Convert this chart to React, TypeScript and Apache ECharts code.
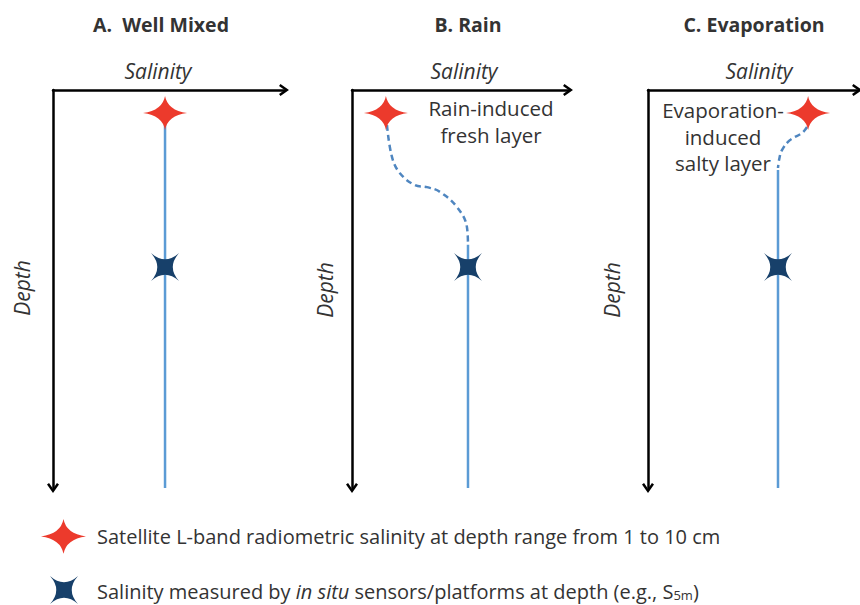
import React, { useEffect, useRef } from "react";
import * as echarts from "echarts";

// ---- data (salinity 0-100 arbitrary units, depth 0-100 arbitrary units) ----
const panelTitles = ["A.  Well Mixed", "B. Rain", "C. Evaporation"];
const axisNameX = "Salinity";
const axisNameY = "Depth";
const starName = "Satellite L-band radiometric salinity at depth range from 1 to 10 cm";
const sensorName = "Salinity measured by in situ sensors/platforms at depth (e.g., S5m)";

const starPoints = [
  [48.5, 5.8],
  [15.7, 5.8],
  [76.6, 5.8],
];
const sensorPoints = [
  [48.5, 44.5],
  [53.7, 44.5],
  [62.2, 44.5],
];
const solidProfiles = [
  [[48.5, 5.8], [48.5, 100]],
  [[53.7, 38.9], [53.7, 100]],
  [[62.2, 20.1], [62.2, 100]],
];
const dashedProfiles = [
  [],
  [[16.2, 8.8], [18.5, 16.8], [22.2, 20.9], [29.2, 23.9], [34.7, 24.4], [40.7, 25.6], [48.6, 29.4], [53.2, 34.4], [53.7, 38.9]],
  [[76.1, 9.3], [73.7, 10.8], [67.9, 12.6], [64.1, 15.1], [62.7, 17.6], [62.2, 19.6]],
];
const annotations = [
  [],
  ["Rain-induced", "fresh layer"],
  ["Evaporation-", "induced", "salty layer"],
];

// ---- layout/style ----
const FONT = '"Open Sans", "Noto Sans", sans-serif';
const grids = [
  { left: 53, top: 90, width: 231, height: 398 },
  { left: 352, top: 90, width: 216, height: 398 },
  { left: 648, top: 90, width: 209, height: 398 },
];
const titlePos = [[161, 24], [468, 24], [754, 24]];
const salinityPos = [[158, 71], [464, 71], [759, 71]];
const depthPos = [[22, 288], [325, 290], [612, 290]];
const annotPos = [null, { x: 491, y: 108, step: 27 }, { x: 723, y: 110, step: 26.5 }];

const ARROW = "path://M6,0 L12,8.5 L9.96,9.94 L6,4.3 L2.04,9.94 L0,8.5 Z";
const STAR = "path://M22,0 Q24.6,14.4 44,17 Q24.6,19.6 22,34 Q19.4,19.6 0,17 Q19.4,14.4 22,0 Z";
const XMARK = "path://M0,0 Q14,12.5 28,0 Q15.5,14 28,28 Q14,15.5 0,28 Q12.5,14 0,0 Z";

export default function App() {
  const ref = useRef<HTMLDivElement>(null);
  useEffect(() => {
    if (!ref.current) return;
    const chart = echarts.init(ref.current, null, { renderer: "svg" });

    const lineStyle = { color: "#000", width: 2.5 };
    const xAxis = grids.map((_, i) => ({
      gridIndex: i,
      type: "value",
      min: 0,
      max: 100,
      position: "top",
      axisLine: { show: true, onZero: false, lineStyle, symbol: ["none", ARROW], symbolSize: [12, 10] },
      axisTick: { show: false },
      axisLabel: { show: false },
      splitLine: { show: false },
    }));
    const yAxis = grids.map((_, i) => ({
      gridIndex: i,
      type: "value",
      min: 0,
      max: 100,
      inverse: true,
      axisLine: { show: true, onZero: false, lineStyle, symbol: [ARROW, "none"], symbolSize: [12, 10] },
      axisTick: { show: false },
      axisLabel: { show: false },
      splitLine: { show: false },
    }));

    const series: any[] = [];
    grids.forEach((_, i) => {
      series.push({
        type: "line",
        name: "profile-" + i,
        xAxisIndex: i,
        yAxisIndex: i,
        data: solidProfiles[i],
        symbol: "none",
        lineStyle: { color: "#5b9bd5", width: 2.5 },
        z: 2,
        silent: true,
      });
      if (dashedProfiles[i].length) {
        series.push({
          type: "line",
          name: "layer-" + i,
          xAxisIndex: i,
          yAxisIndex: i,
          data: dashedProfiles[i],
          smooth: 0.4,
          symbol: "none",
          lineStyle: { color: "#4f86c0", width: 2.5, type: [6, 4] },
          z: 2,
          silent: true,
        });
      }
      series.push({
        type: "scatter",
        name: starName,
        xAxisIndex: i,
        yAxisIndex: i,
        data: [starPoints[i]],
        symbol: STAR,
        symbolSize: [44, 34],
        itemStyle: { color: "#ec3a2c", opacity: 1 },
        z: 5,
        silent: true,
      });
      series.push({
        type: "scatter",
        name: sensorName,
        xAxisIndex: i,
        yAxisIndex: i,
        data: [sensorPoints[i]],
        symbol: XMARK,
        symbolSize: [28, 28],
        itemStyle: { color: "#17406a", opacity: 1 },
        z: 5,
        silent: true,
      });
    });

    const graphic: any[] = [];
    panelTitles.forEach((t, i) => {
      graphic.push({
        type: "text",
        x: titlePos[i][0],
        y: titlePos[i][1],
        style: { text: t, fontFamily: FONT, fontSize: 19.5, fontWeight: "bold", fill: "#333", align: "center", verticalAlign: "middle" },
      });
      graphic.push({
        type: "text",
        x: salinityPos[i][0],
        y: salinityPos[i][1],
        style: { text: axisNameX, fontFamily: FONT, fontSize: 21, fontStyle: "italic", fill: "#333", align: "center", verticalAlign: "middle" },
      });
      graphic.push({
        type: "text",
        x: depthPos[i][0],
        y: depthPos[i][1],
        rotation: Math.PI / 2,
        style: { text: axisNameY, fontFamily: FONT, fontSize: 21, fontStyle: "italic", fill: "#333", align: "center", verticalAlign: "middle" },
      });
      const ap = annotPos[i];
      if (ap) {
        annotations[i].forEach((line, j) => {
          graphic.push({
            type: "text",
            x: ap.x,
            y: ap.y + j * ap.step,
            style: { text: line, fontFamily: FONT, fontSize: 20.5, fill: "#333", align: "center", verticalAlign: "middle" },
          });
        });
      }
    });

    chart.setOption({
      animation: false,
      backgroundColor: "#fff",
      grid: grids.map((g) => ({ ...g, containLabel: false })),
      xAxis,
      yAxis,
      series,
      graphic,
      legend: [
        {
          data: [{ name: starName, icon: STAR }],
          left: 41,
          top: 519,
          padding: 0,
          itemWidth: 45,
          itemHeight: 36,
          selectedMode: false,
          formatter: () => "{n|Satellite L-band radiometric salinity at depth range from 1 to 10 cm}",
          textStyle: {
            rich: { n: { fontFamily: FONT, fontSize: 20, color: "#333", padding: [0, 0, 0, 6] } },
          },
        },
        {
          data: [{ name: sensorName, icon: XMARK }],
          left: 50,
          top: 576,
          padding: 0,
          itemWidth: 28,
          itemHeight: 28,
          selectedMode: false,
          formatter: () =>
            "{p|Salinity measured by }{i|in situ}{n| sensors/platforms at depth (e.g., S}{s|5m}{n|)}",
          textStyle: {
            rich: {
              p: { fontFamily: FONT, fontSize: 20, color: "#333", padding: [0, 0, 0, 14], lineHeight: 22, verticalAlign: "bottom" },
              n: { fontFamily: FONT, fontSize: 20, color: "#333", lineHeight: 22, verticalAlign: "bottom" },
              i: { fontFamily: FONT, fontSize: 20, fontStyle: "italic", color: "#333", lineHeight: 22, verticalAlign: "bottom" },
              s: { fontFamily: FONT, fontSize: 13, color: "#333", lineHeight: 12, verticalAlign: "bottom" },
            },
          },
        },
      ],
    });
    return () => chart.dispose();
  }, []);
  return (
    <div
      ref={ref}
      style={{ position: "fixed", left: 0, top: 0, width: 860, height: 605, background: "#fff" }}
    />
  );
}
